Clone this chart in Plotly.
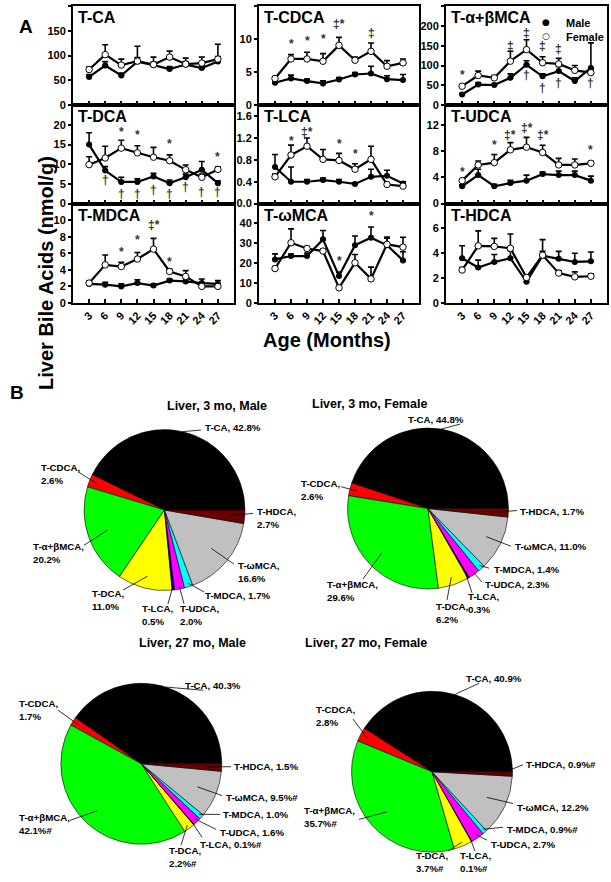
import math
import plotly.graph_objects as go

W, H = 611, 882

# ---------------- Panel A data (nmol/g) ----------------
ages = [3, 6, 9, 12, 15, 18, 21, 24, 27]

tca_m = [57, 80, 60, 88, 81, 73, 82, 75, 88]
tca_f = [72, 102, 81, 89, 82, 97, 83, 85, 93]
tca_m_err = [5, 8, 5, 8, 6, 5, 6, 5, 10]
tca_f_err = [5, 20, 12, 30, 15, 12, 12, 12, 30]

tcdca_m = [3.4, 4.05, 3.65, 3.3, 3.9, 4.65, 4.8, 3.95, 3.8]
tcdca_f = [4.05, 7.0, 7.0, 6.65, 9.05, 6.8, 8.15, 5.9, 6.4]
tcdca_m_err = [0.3, 0.5, 0.3, 0.4, 0.3, 0.3, 1.1, 0.5, 0.85]
tcdca_f_err = [0.3, 0.65, 1.0, 1.15, 1.2, 0.5, 1.25, 0.85, 0.6]

tab_m = [27, 52, 51, 69, 102, 73, 86, 61, 94]
tab_f = [48, 75, 69, 111, 140, 107, 104, 88, 82]
tab_m_err = [3, 5, 4, 10, 10, 6, 12, 8, 63]
tab_f_err = [4, 11, 6, 25, 25, 15, 14, 12, 6]

tdca_m = [15.0, 8.4, 5.5, 5.5, 6.9, 5.2, 6.7, 8.6, 5.2]
tdca_f = [9.9, 11.6, 14.1, 12.9, 11.8, 10.9, 8.6, 6.7, 8.7]
tdca_m_err = [3.0, 1.0, 1.2, 0.8, 0.8, 0.8, 0.8, 2.1, 0.6]
tdca_f_err = [2.0, 3.0, 2.0, 1.8, 2.5, 1.5, 1.2, 0.8, 0.6]

tlca_m = [0.67, 0.40, 0.40, 0.43, 0.40, 0.36, 0.49, 0.51, 0.37]
tlca_f = [0.49, 0.89, 1.05, 0.81, 0.79, 0.63, 0.81, 0.35, 0.32]
tlca_m_err = [0.23, 0.27, 0.04, 0.04, 0.04, 0.02, 0.14, 0.10, 0.03]
tlca_f_err = [0.05, 0.18, 0.15, 0.18, 0.13, 0.10, 0.24, 0.03, 0.03]

tudca_m = [2.65, 4.35, 2.65, 3.15, 3.5, 4.5, 4.35, 4.35, 3.5]
tudca_f = [3.5, 5.9, 6.25, 8.2, 8.6, 7.8, 5.9, 5.9, 6.15]
tudca_m_err = [0.2, 0.9, 0.3, 0.4, 0.85, 0.3, 0.6, 0.6, 0.7]
tudca_f_err = [0.3, 0.6, 1.25, 1.1, 1.5, 1.1, 1.0, 0.9, 0.3]

tmdca_m = [2.3, 2.2, 2.0, 2.4, 2.1, 2.7, 2.6, 2.4, 2.3]
tmdca_f = [2.4, 4.6, 4.4, 5.3, 6.5, 3.8, 3.2, 2.0, 2.0]
tmdca_m_err = [0.2, 0.3, 0.3, 0.4, 0.2, 0.2, 0.3, 0.5, 0.4]
tmdca_f_err = [0.2, 1.2, 0.5, 0.8, 1.3, 0.3, 0.7, 0.3, 0.3]

tomca_m = [21.9, 23.6, 23.6, 32.0, 13.5, 29.1, 32.8, 29.1, 21.4]
tomca_f = [17.3, 30.3, 27.4, 26.1, 7.6, 20.2, 12.1, 29.5, 28.1]
tomca_m_err = [2.8, 1.0, 1.5, 4.5, 2.0, 4.6, 5.4, 3.5, 4.4]
tomca_f_err = [1.0, 7.0, 1.0, 1.0, 0.5, 4.2, 5.9, 3.7, 5.0]

thdca_m = [3.6, 2.85, 3.3, 3.6, 1.7, 3.8, 3.55, 3.3, 3.35]
thdca_f = [2.65, 4.6, 4.55, 4.4, 2.05, 3.85, 2.4, 2.1, 2.15]
thdca_m_err = [1.0, 0.6, 0.6, 0.6, 0.2, 1.3, 0.6, 0.7, 0.75]
thdca_f_err = [0.2, 1.2, 0.65, 1.15, 0.1, 0.3, 0.2, 0.4, 0.2]

# significance marks: (age, y, symbol)
sig_tca = []
sig_tcdca = [(6, 9.2, "*"), (9, 9.7, "*"), (12, 10.0, "*"), (15, 12.2, "‡*"), (21, 10.9, "‡")]
sig_tab = [(3, 77, "*"), (12, 150, "‡"), (15, 182, "‡"), (18, 148, "‡"), (21, 142, "‡"),
           (15, 75, "†"), (18, 44, "†"), (21, 57, "†"), (27, 57, "†")]
sig_tdca = [(9, 18.3, "*"), (12, 17.5, "*"), (18, 15.2, "*"), (27, 11.8, "*"),
            (6, 5.9, "†"), (9, 2.5, "†"), (12, 2.5, "†"), (15, 3.4, "†"),
            (18, 2.5, "†"), (21, 4.2, "†"), (24, 3.0, "†"), (27, 3.0, "†")]
sig_tlca = [(6, 1.14, "*"), (9, 1.31, "‡*"), (15, 1.10, "*"), (18, 0.90, "*")]
sig_tudca = [(3, 4.85, "*"), (9, 9.0, "*"), (12, 10.5, "‡*"), (15, 11.5, "‡*"),
             (18, 10.5, "‡*"), (27, 8.25, "*")]
sig_tmdca = [(9, 6.1, "*"), (12, 7.6, "*"), (15, 9.4, "‡*"), (18, 5.0, "*")]
sig_tomca = [(15, 21, "*"), (21, 43.8, "*")]
sig_thdca = []

panels = [
    ("T-CA", tca_m, tca_f, tca_m_err, tca_f_err, sig_tca, [0, 200], [0, 50, 100, 150, 200], None),
    ("T-CDCA", tcdca_m, tcdca_f, tcdca_m_err, tcdca_f_err, sig_tcdca, [0, 15], [0, 5, 10, 15], None),
    ("T-α+βMCA", tab_m, tab_f, tab_m_err, tab_f_err, sig_tab, [0, 250], [0, 50, 100, 150, 200, 250], None),
    ("T-DCA", tdca_m, tdca_f, tdca_m_err, tdca_f_err, sig_tdca, [0, 25], [0, 5, 10, 15, 20], None),
    ("T-LCA", tlca_m, tlca_f, tlca_m_err, tlca_f_err, sig_tlca, [0, 1.8], [0, 0.4, 0.8, 1.2, 1.6], ".1f"),
    ("T-UDCA", tudca_m, tudca_f, tudca_m_err, tudca_f_err, sig_tudca, [0, 15], [0, 4, 8, 12], None),
    ("T-MDCA", tmdca_m, tmdca_f, tmdca_m_err, tmdca_f_err, sig_tmdca, [0, 12], [0, 2, 4, 6, 8, 10], None),
    ("T-ωMCA", tomca_m, tomca_f, tomca_m_err, tomca_f_err, sig_tomca, [0, 50], [0, 10, 20, 30, 40], None),
    ("T-HDCA", thdca_m, thdca_f, thdca_m_err, thdca_f_err, sig_thdca, [0, 8], [0, 2, 4, 6], None),
]

# ---------------- Panel B data (% of total) ----------------
acids = ["T-CA", "T-CDCA", "T-α+βMCA", "T-DCA", "T-LCA", "T-UDCA", "T-MDCA", "T-ωMCA", "T-HDCA"]
acid_colors = ["#000000", "#FF0000", "#00FF00", "#FFFF00", "#0000CC",
               "#FF00FF", "#00FFFF", "#C0C0C0", "#6B0000"]

pct_3m_male = [42.8, 2.6, 20.2, 11.0, 0.5, 2.0, 1.7, 16.6, 2.7]
pct_3m_female = [44.8, 2.6, 29.6, 6.2, 0.3, 2.3, 1.4, 11.0, 1.7]
pct_27m_male = [40.3, 1.7, 42.1, 2.2, 0.1, 1.6, 1.0, 9.5, 1.5]
pct_27m_female = [40.9, 2.8, 35.7, 3.7, 0.1, 2.7, 0.9, 12.2, 0.9]
hash_27m_male = [0, 0, 1, 1, 1, 0, 0, 1, 0]
hash_27m_female = [0, 0, 1, 1, 1, 0, 1, 0, 1]
no_hash = [0] * 9

pie_titles = ["Liver, 3 mo, Male", "Liver, 3 mo, Female",
              "Liver, 27 mo, Male", "Liver, 27 mo, Female"]


def px(x):
    return x / W


def py(y):
    return 1 - y / H


FONT = "Liberation Sans, Arial, sans-serif"

fig = go.Figure()
annotations = []
shapes = []
layout_axes = {}

cols = [(73, 234), (259, 419), (446, 607)]
rows = [(6, 106), (106, 205), (205, 305)]

for i, (name, m, f, em, ef, sig, yr, yt, fmt) in enumerate(panels):
    r, c = divmod(i, 3)
    n = "" if i == 0 else str(i + 1)
    xa, ya = "x" + n, "y" + n
    layout_axes["xaxis" + n] = dict(
        domain=[px(cols[c][0]), px(cols[c][1])], anchor=ya, range=[0, 30],
        tickvals=ages, ticktext=[str(a) for a in ages], showticklabels=(r == 2),
        tickangle=-45, ticks="inside", ticklen=4, tickwidth=1.5, tickcolor="black",
        showline=True, mirror=True, linewidth=2, linecolor="black",
        showgrid=False, zeroline=False,
        tickfont=dict(family=FONT, size=11, weight="bold", color="black"),
    )
    layout_axes["yaxis" + n] = dict(
        domain=[py(rows[r][1]), py(rows[r][0])], anchor=xa, range=yr,
        tickvals=yt, tickformat=fmt, ticks="outside", ticklen=3, tickwidth=1.5,
        tickcolor="black", showline=True, mirror=True, linewidth=2, linecolor="black",
        showgrid=False, zeroline=False,
        tickfont=dict(family=FONT, size=11, weight="bold", color="black"),
    )
    fig.add_trace(go.Scatter(
        x=ages, y=m, mode="lines+markers", xaxis=xa, yaxis=ya, showlegend=False,
        line=dict(color="black", width=2.2),
        marker=dict(symbol="circle", size=6, color="black"),
        error_y=dict(type="data", array=em, arrayminus=[0] * 9, symmetric=False,
                     color="black", thickness=1.6, width=3),
    ))
    fig.add_trace(go.Scatter(
        x=ages, y=f, mode="lines+markers", xaxis=xa, yaxis=ya, showlegend=False,
        line=dict(color="black", width=2.2),
        marker=dict(symbol="circle", size=6.5, color="white",
                    line=dict(color="black", width=1)),
        error_y=dict(type="data", array=ef, arrayminus=[0] * 9, symmetric=False,
                     color="black", thickness=1.6, width=3),
    ))
    for (ax_, ay_, s) in sig:
        annotations.append(dict(x=ax_, y=ay_, xref=xa, yref=ya, text=s, showarrow=False,
                                font=dict(family=FONT, size=12, weight="bold", color="#333333")))
    annotations.append(dict(x=px(cols[c][0] + 3), y=py(rows[r][0] + 1), xref="paper", yref="paper",
                            text=name, showarrow=False, xanchor="left", yanchor="top",
                            font=dict(family=FONT, size=16, weight="bold", color="black")))

# legend (inside T-α+βMCA panel)
annotations += [
    dict(x=px(552), y=py(15), xref="paper", yref="paper", text="●", showarrow=False,
         font=dict(family="DejaVu Sans", size=9, color="black")),
    dict(x=px(552), y=py(29), xref="paper", yref="paper", text="○", showarrow=False,
         font=dict(family="DejaVu Sans", size=9, color="black")),
    dict(x=px(564), y=py(15), xref="paper", yref="paper", text="Male", showarrow=False,
         xanchor="left", font=dict(family=FONT, size=11, weight="bold", color="black")),
    dict(x=px(564), y=py(29), xref="paper", yref="paper", text="Female", showarrow=False,
         xanchor="left", font=dict(family=FONT, size=11, weight="bold", color="black")),
]

# axis titles and panel letters
annotations += [
    dict(x=px(33), y=py(155), xref="paper", yref="paper", text="Liver Bile Acids (nmol/g)",
         textangle=-90, showarrow=False, font=dict(family=FONT, size=20, weight="bold", color="black")),
    dict(x=px(327), y=py(342), xref="paper", yref="paper", text="Age (Months)", showarrow=False,
         font=dict(family=FONT, size=20, weight="bold", color="black")),
    dict(x=px(17), y=py(14), xref="paper", yref="paper", text="A", showarrow=False,
         font=dict(family=FONT, size=19, weight="bold", color="black")),
    dict(x=px(8), y=py(395), xref="paper", yref="paper", text="B", showarrow=False,
         font=dict(family=FONT, size=19, weight="bold", color="black")),
]

# ---------------- Pies ----------------
R = 81
pies = [
    (pct_3m_male, no_hash, (164.5, 513.5), pie_titles[0], (165, 409)),
    (pct_3m_female, no_hash, (428, 512), pie_titles[1], (429, 407)),
    (pct_27m_male, hash_27m_male, (141.3, 769), pie_titles[2], (137, 656)),
    (pct_27m_female, hash_27m_female, (432, 777), pie_titles[3], (429, 656)),
]

# label layout per pie: (text x, center y, xanchor, two lines?, line end x, line end y, radial frac)
label_layout = [
    [(203, 430, "left", 0, 201, 433, 1.0), (39, 477, "left", 1, 78, 475, 0.9),
     (31, 557, "left", 1, 84, 549, 0.75), (90, 604, "left", 1, 123, 594, 0.85),
     (140, 619, "left", 1, 168, 608, 0.95), (178, 619, "left", 1, 184, 608, 0.95),
     (203, 600, "left", 0, 204, 596, 0.95), (236, 576, "left", 1, 234, 568, 0.75),
     (255, 522, "left", 1, 253, 517, 0.8)],
    [(436, 422, "center", 0, 460, 427, 1.0), (299, 493, "left", 1, 341, 490, 0.9),
     (325, 595, "left", 1, 363, 583, 0.8), (434, 617, "left", 1, 447, 604, 0.9),
     (466, 607, "left", 1, 472, 597, 0.9), (483, 588, "left", 0, 482, 586, 0.95),
     (492, 573, "left", 0, 489, 572, 0.95), (513, 550, "left", 0, 511, 550, 0.8),
     (518, 515, "left", 0, 517, 514, 0.85)],
    [(183, 690, "left", 0, 203, 695, 1.0), (17, 715, "left", 1, 58, 715, 0.9),
     (17, 830, "left", 1, 70, 826, 0.8), (167, 863, "left", 1, 181, 851, 0.95),
     (198, 850, "left", 0, 202, 843, 0.95), (218, 838, "left", 0, 216, 835, 0.95),
     (221, 820, "left", 0, 220, 820, 0.95), (224, 803, "left", 0, 222, 801, 0.75),
     (232, 772, "left", 0, 231, 772, 0.8)],
    [(464, 683, "left", 0, 479, 688, 1.0), (314, 721, "left", 1, 353, 724, 0.9),
     (302, 823, "left", 1, 359, 825, 0.75), (414, 868, "left", 1, 448, 857, 0.95),
     (458, 868, "left", 1, 475, 857, 0.95), (489, 850, "left", 0, 487, 846, 0.95),
     (505, 835, "left", 0, 503, 833, 0.95), (515, 813, "left", 0, 513, 809, 0.75),
     (524, 770, "left", 0, 523, 770, 0.85)],
]

for k, (vals, hashes, (cx, cy), title, (tx, ty)) in enumerate(pies):
    total = sum(vals)
    # plotly's counterclockwise pie: first slice lies clockwise of the rotation line,
    # so rotate by its angle to put its lower edge at 3 o'clock
    rot = 90 - 360 * vals[0] / total
    fig.add_trace(go.Pie(
        values=vals, labels=acids, sort=False, direction="counterclockwise", rotation=rot,
        textinfo="none", showlegend=False,
        marker=dict(colors=acid_colors, line=dict(color="black", width=0.6)),
        domain=dict(x=[px(cx - R), px(cx + R)], y=[py(cy + R), py(cy - R)]),
    ))
    annotations.append(dict(x=px(tx), y=py(ty), xref="paper", yref="paper", text=title,
                            showarrow=False, font=dict(family=FONT, size=12.5, weight="bold", color="black")))
    cum = 0.0
    for j, v in enumerate(vals):
        mid = math.radians(360 * (cum + v / 2) / total)
        cum += v
        lx, ly, anc, two, ex, ey, fr = label_layout[k][j]
        sx = cx + fr * R * math.cos(mid)
        sy = cy - fr * R * math.sin(mid)
        shapes.append(dict(type="line", xref="paper", yref="paper",
                           x0=px(sx), y0=py(sy), x1=px(ex), y1=py(ey),
                           line=dict(color="black", width=0.8)))
        pct = f"{v:.1f}%" + ("#" if hashes[j] else "")
        sep = ",<br>" if two else ", "
        annotations.append(dict(x=px(lx), y=py(ly), xref="paper", yref="paper",
                                text=acids[j] + sep + pct, showarrow=False,
                                xanchor=anc, yanchor="middle", align="left",
                                font=dict(family=FONT, size=9.7, weight="bold", color="black")))

fig.update_layout(
    width=W, height=H, margin=dict(l=0, r=0, t=0, b=0),
    paper_bgcolor="white", plot_bgcolor="white", showlegend=False,
    font=dict(family=FONT, color="black"),
    annotations=annotations, shapes=shapes, **layout_axes,
)

fig.write_html("out.html", config={"displayModeBar": False},
               post_script="document.body.style.margin='0';")
